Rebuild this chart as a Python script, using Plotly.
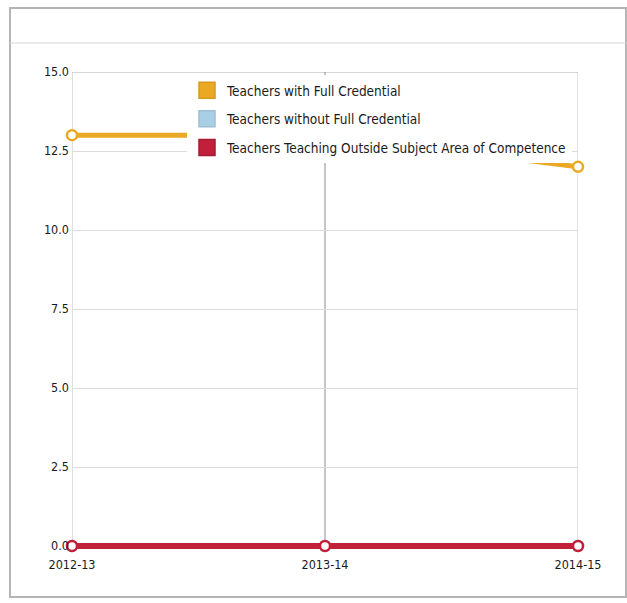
import plotly.graph_objects as go

years = ["2012-13", "2013-14", "2014-15"]
full_credential = [13, 13, 12]
without_full = [0, 0, 0]
outside_subject = [0, 0, 0]

series_names = ["Teachers with Full Credential",
                "Teachers without Full Credential",
                "Teachers Teaching Outside Subject Area of Competence"]
colors = ["#EBA823", "#A9CFE6", "#C2203A"]
edge_colors = ["#D89A1E", "#9DBFD6", "#A81A30"]
values = [full_credential, without_full, outside_subject]
widths = [5, 5, 6]
grid_colors = ["#bdbdbd", "#8c8c8c", "#c8c8c8"]

W, H = 627, 603
L, R, T, B = 72, 578, 72, 552
YMIN, YMAX = -0.19, 15

def px(x):
    return (x - L) / (R - L)

def py(y):
    return (B - y) / (B - T)

fig = go.Figure()
for name, col, vals, w in zip(series_names, colors, values, widths):
    fig.add_trace(go.Scatter(
        x=years, y=vals, mode="lines+markers", name=name, showlegend=False,
        line=dict(color=col, width=w),
        marker=dict(symbol="circle", size=10, color="white", line=dict(color=col, width=2.5)),
        cliponaxis=False, hoverinfo="skip"))
for i, (name, col, ec) in enumerate(zip(series_names, colors, edge_colors)):
    fig.add_trace(go.Scatter(x=[years[0]], y=[None], name=name, mode="markers",
                             legendgroup="g%d" % i,
                             marker=dict(symbol="square", size=16, color=col,
                                         line=dict(color=ec, width=1.5))))

shapes = [
    dict(type="rect", xref="paper", yref="paper", x0=px(10), x1=px(626),
         y0=py(597), y1=py(8), line=dict(color="#b5b5b5", width=2),
         fillcolor="rgba(0,0,0,0)", layer="below"),
    dict(type="line", xref="paper", yref="paper", x0=px(10), x1=px(626),
         y0=py(43), y1=py(43), line=dict(color="#d5d5d5", width=1)),
    dict(type="line", xref="paper", yref="y", x0=0, x1=1,
         y0=YMAX, y1=YMAX, line=dict(color="#b0b0b0", width=1), layer="below"),
]
for yr, gc in zip(years, grid_colors):
    shapes.append(dict(type="line", xref="x", yref="y", x0=yr, x1=yr, y0=0, y1=YMAX,
                       line=dict(color=gc, width=1), layer="below"))

fig.update_layout(
    width=W, height=H,
    margin=dict(l=L, r=W - R, t=T, b=H - B),
    paper_bgcolor="white", plot_bgcolor="white",
    font=dict(family="DejaVu Sans Condensed", size=12.5, color="#1a1a1a"),
    showlegend=True,
    legend=dict(x=px(187), y=py(75), xanchor="left", yanchor="top",
                bgcolor="white", borderwidth=0, tracegroupgap=8,
                font=dict(size=13.5, color="#1a1a1a"), itemwidth=30),
    xaxis=dict(type="category", range=[0, 2], showgrid=False,
               showline=False, zeroline=False, ticks="outside", ticklen=1,
               tickcolor="rgba(0,0,0,0)",
               tickfont=dict(size=12.5, color="#1a1a1a")),
    yaxis=dict(range=[YMIN, YMAX], tickvals=[0, 2.5, 5, 7.5, 10, 12.5, 15],
               tickformat=".1f", showgrid=True,
               gridcolor="#dcdcdc", showline=False, ticklabelstandoff=2,
               zeroline=False, ticks="", tickfont=dict(size=12.5, color="#1a1a1a")),
    shapes=shapes,
)

fig.write_html("out.html")
